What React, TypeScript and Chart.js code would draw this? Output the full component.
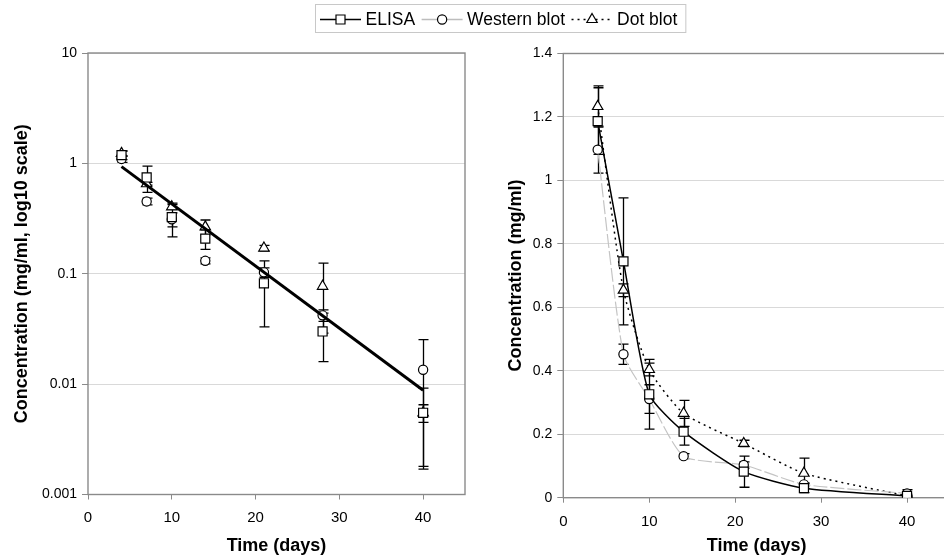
import React, { useEffect, useRef } from "react";
import { Chart, registerables } from "chart.js";
Chart.register(...registerables);

// ---- data ----
const days = [4, 7, 10, 14, 21, 28, 40];
const elisa = [1.187, 0.745, 0.326, 0.208, 0.082, 0.03, 0.0055];
const western = [1.097, 0.452, 0.311, 0.131, 0.103, 0.042, 0.0135];
const dotBlot = [1.233, 0.654, 0.404, 0.266, 0.171, 0.077, 0.0055];
const elisaErr = [0.105, 0.2, 0.11, 0.042, 0.049, 0.014, 0.0037];
const westernErr = [0.074, 0.032, 0.045, 0.008, 0.01, 0.005, 0.0118];
const dotBlotErr = [0.065, 0.02, 0.02, 0.041, 0.01, 0.048, 0.001];
const fitDays = [4, 40];
const fitValues = [0.935, 0.0088];
const logTicks = [0.001, 0.01, 0.1, 1, 10];
const seriesNames = ["ELISA", "Western blot", "Dot blot"];
const xTitle = "Time (days)";
const yTitleLeft = "Concentration (mg/ml, log10 scale)";
const yTitleRight = "Concentration (mg/ml)";

const FONT = "'Liberation Sans', Arial, sans-serif";
Chart.defaults.font.family = FONT;

const pts = (xs: number[], ys: number[]) => xs.map((x, i) => ({ x, y: ys[i] }));

const errorBars = {
  id: "errorBars",
  beforeDatasetsDraw(chart: any) {
    const { ctx } = chart;
    const xs = chart.scales.x;
    const ys = chart.scales.y;
    ctx.save();
    ctx.strokeStyle = "#000";
    ctx.lineWidth = 1.3;
    chart.data.datasets.forEach((ds: any) => {
      if (!ds.errors) return;
      ds.data.forEach((p: any, i: number) => {
        const e = ds.errors[i];
        if (!e) return;
        const x = Math.round(xs.getPixelForValue(p.x)) + 0.5;
        const y1 = ys.getPixelForValue(p.y + e);
        const y2 = ys.getPixelForValue(Math.max(p.y - e, 1e-6));
        ctx.beginPath();
        ctx.moveTo(x, y1);
        ctx.lineTo(x, y2);
        ctx.moveTo(x - 5, y1);
        ctx.lineTo(x + 5, y1);
        ctx.moveTo(x - 5, y2);
        ctx.lineTo(x + 5, y2);
        ctx.stroke();
      });
    });
    ctx.restore();
  },
};

const boxPlugin = {
  id: "box",
  beforeDatasetsDraw(chart: any) {
    const { ctx, chartArea: a } = chart;
    ctx.save();
    ctx.strokeStyle = "#8a8a8a";
    ctx.lineWidth = 1.4;
    ctx.strokeRect(a.left, a.top, a.right - a.left, a.bottom - a.top);
    ctx.restore();
  },
};

function drawMarker(ctx: CanvasRenderingContext2D, kind: string, x: number, y: number) {
  ctx.save();
  ctx.fillStyle = "#fff";
  ctx.strokeStyle = "#000";
  ctx.lineWidth = 1.2;
  ctx.setLineDash([]);
  ctx.beginPath();
  if (kind === "rect") {
    ctx.rect(x - 4.5, y - 4.5, 9, 9);
  } else if (kind === "circle") {
    ctx.arc(x, y, 4.6, 0, Math.PI * 2);
  } else {
    const r = 6;
    ctx.moveTo(x, y - r);
    ctx.lineTo(x + 0.866 * r, y + 0.5 * r);
    ctx.lineTo(x - 0.866 * r, y + 0.5 * r);
    ctx.closePath();
  }
  ctx.fill();
  ctx.stroke();
  ctx.restore();
}

const legendPlugin = {
  id: "customLegend",
  afterDraw(chart: any) {
    const ctx: CanvasRenderingContext2D = chart.ctx;
    const styles = [
      { kind: "rect", color: "#000", dash: [] as number[], width: 1.5 },
      { kind: "circle", color: "#bdbdbd", dash: [] as number[], width: 1.3 },
      { kind: "triangle", color: "#000", dash: [2, 4], width: 1.5 },
    ];
    ctx.save();
    ctx.font = `17.5px ${FONT}`;
    ctx.textBaseline = "middle";
    const y = 19.5;
    let x = 320;
    const boxLeft = 315.5;
    seriesNames.forEach((name, i) => {
      const s = styles[i];
      ctx.strokeStyle = s.color;
      ctx.lineWidth = s.width;
      ctx.setLineDash(s.dash);
      ctx.beginPath();
      ctx.moveTo(x, y);
      ctx.lineTo(x + 41, y);
      ctx.stroke();
      drawMarker(ctx, s.kind, x + 20.5, y);
      ctx.fillStyle = "#000";
      ctx.fillText(name, x + 45.5, y + 0.5);
      x = x + 45.5 + ctx.measureText(name).width + 6.5;
    });
    ctx.setLineDash([]);
    ctx.strokeStyle = "#c8c8c8";
    ctx.lineWidth = 1;
    ctx.strokeRect(boxLeft, 4.5, x + 2 - boxLeft, 28);
    ctx.restore();
  },
};

const tickFont = { size: 14, family: FONT };
const xTickFont = { size: 15, family: FONT };
const titleFont = { size: 18, weight: "bold" as const, family: FONT };

function xAxis(height: number, pad: number) {
  return {
    type: "linear" as const,
    min: 0,
    max: 45,
    afterFit: (s: any) => {
      s.height = height;
    },
    ticks: { stepSize: 10, includeBounds: false, color: "#000", font: xTickFont, padding: pad, maxRotation: 0 },
    grid: { drawOnChartArea: false, drawTicks: true, tickLength: 5, tickColor: "#8a8a8a" },
    border: { display: false },
    title: { display: true, text: xTitle, color: "#000", font: titleFont, padding: { top: 0, bottom: 0 } },
  };
}

export default function App() {
  const leftRef = useRef<HTMLCanvasElement>(null);
  const rightRef = useRef<HTMLCanvasElement>(null);

  useEffect(() => {
    const markerBase = {
      pointBackgroundColor: "#fff",
      pointBorderColor: "#000",
      pointBorderWidth: 1.2,
      backgroundColor: "#fff",
    };
    const left = new Chart(leftRef.current!, {
      type: "scatter",
      data: {
        datasets: [
          {
            label: "fit",
            data: pts(fitDays, fitValues),
            showLine: true,
            borderColor: "#000",
            borderWidth: 3,
            pointRadius: 0,
          } as any,
          { label: seriesNames[0], data: pts(days, elisa), errors: elisaErr, pointStyle: "rect", pointRadius: 6.4, ...markerBase },
          { label: seriesNames[1], data: pts(days, western), errors: westernErr, pointStyle: "circle", pointRadius: 4.6, ...markerBase },
          { label: seriesNames[2], data: pts(days, dotBlot), errors: dotBlotErr, pointStyle: "triangle", pointRadius: 6, ...markerBase },
        ],
      },
      options: {
        animation: false,
        responsive: false,
        devicePixelRatio: 1,
        layout: { padding: { left: 7, top: 53, right: 479, bottom: 0 } },
        plugins: { legend: { display: false }, tooltip: { enabled: false } },
        scales: {
          x: xAxis(62.5, 9),
          y: {
            type: "logarithmic",
            min: 0.001,
            max: 10,
            afterBuildTicks: (s: any) => {
              s.ticks = logTicks.map((v) => ({ value: v }));
            },
            afterFit: (s: any) => {
              s.width = 81;
            },
            ticks: { color: "#000", font: tickFont, padding: 5, callback: (v: any) => String(v) },
            grid: { color: "#d9d9d9", tickColor: "#8a8a8a", tickLength: 6 },
            border: { display: false },
            title: { display: true, text: yTitleLeft, color: "#000", font: titleFont, padding: { top: 4, bottom: 0 } },
          },
        },
      } as any,
      plugins: [boxPlugin, errorBars, legendPlugin],
    });

    const right = new Chart(rightRef.current!, {
      type: "scatter",
      data: {
        datasets: [
          {
            label: seriesNames[0], data: pts(days, elisa), errors: elisaErr, showLine: true, tension: 0.2,
            borderColor: "#000", borderWidth: 1.5, pointStyle: "rect", pointRadius: 6.4, ...markerBase,
          },
          {
            label: seriesNames[1], data: pts(days, western), errors: westernErr, showLine: true, tension: 0.2,
            borderColor: "#c4c4c4", borderWidth: 1.2, borderDash: [14, 3], pointStyle: "circle", pointRadius: 4.6, ...markerBase,
          },
          {
            label: seriesNames[2], data: pts(days, dotBlot), errors: dotBlotErr, showLine: true, tension: 0.2,
            borderColor: "#000", borderWidth: 1.5, borderDash: [2, 4], pointStyle: "triangle", pointRadius: 6, ...markerBase,
          },
        ] as any,
      },
      options: {
        animation: false,
        responsive: false,
        devicePixelRatio: 1,
        layout: { padding: { left: 21, top: 53.5, right: 10, bottom: 0 } },
        plugins: { legend: { display: false }, tooltip: { enabled: false } },
        scales: {
          x: xAxis(59.3, 10),
          y: {
            type: "linear",
            min: 0,
            max: 1.4,
            afterFit: (s: any) => {
              s.width = 62.3;
            },
            ticks: {
              stepSize: 0.2,
              color: "#000",
              font: tickFont,
              padding: 5,
              callback: (v: any) => String(Math.round(v * 10) / 10),
            },
            grid: { color: "#d9d9d9", tickColor: "#8a8a8a", tickLength: 6 },
            border: { display: false },
            title: { display: true, text: yTitleRight, color: "#000", font: titleFont, padding: { top: 4, bottom: 0 } },
          },
        },
      } as any,
      plugins: [boxPlugin, errorBars],
    });

    return () => {
      left.destroy();
      right.destroy();
    };
  }, []);

  return (
    <div style={{ position: "fixed", left: 0, top: 0, width: 944, height: 557, overflow: "hidden", background: "#fff" }}>
      <canvas ref={leftRef} width={944} height={557} style={{ position: "absolute", left: 0, top: 0 }} />
      <canvas ref={rightRef} width={480} height={557} style={{ position: "absolute", left: 480, top: 0 }} />
    </div>
  );
}
